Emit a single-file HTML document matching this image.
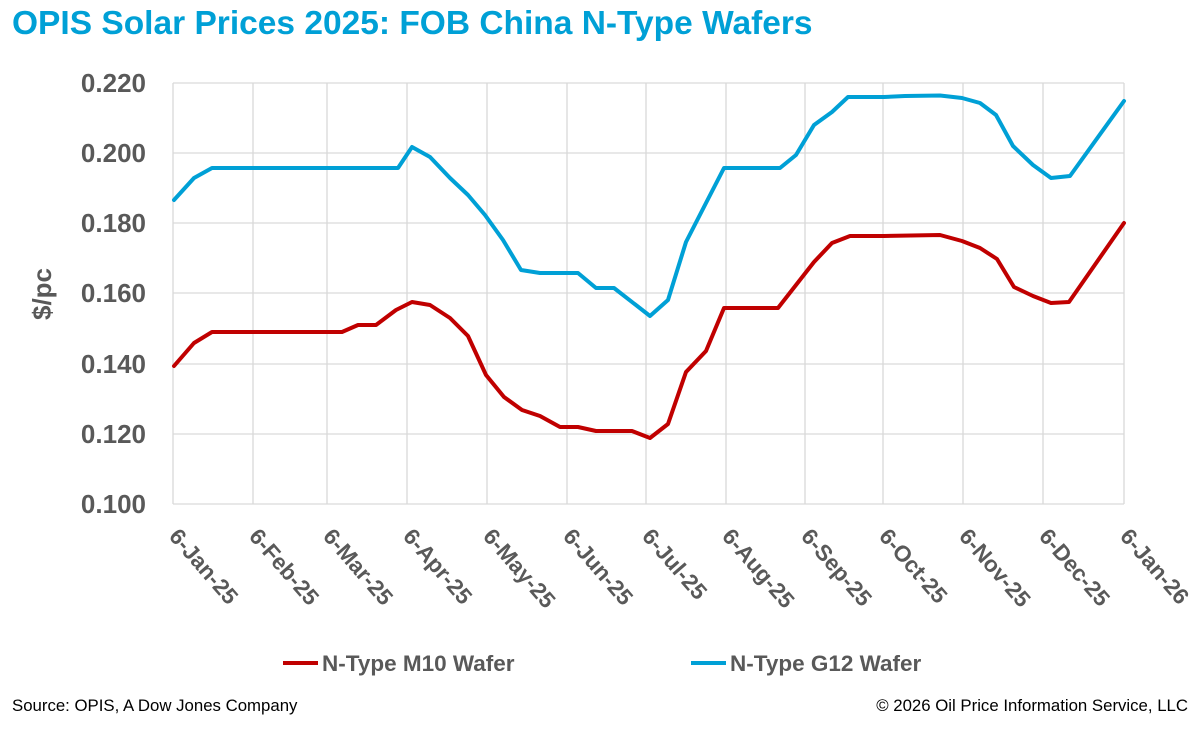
<!DOCTYPE html>
<html><head><meta charset="utf-8"><style>
body{margin:0;background:#fff;width:1200px;height:724px;overflow:hidden;font-family:"Liberation Sans",Arial,sans-serif}
</style></head><body>
<svg width="1200" height="724" xmlns="http://www.w3.org/2000/svg" font-family="Liberation Sans, Arial, sans-serif">
<text x="12" y="34" font-size="33.5" font-weight="bold" fill="#00A0D6">OPIS Solar Prices 2025: FOB China N-Type Wafers</text>
<g stroke="#d9d9d9" stroke-width="1.3">
<line x1="173" y1="83" x2="1124" y2="83"/><line x1="173" y1="153" x2="1124" y2="153"/><line x1="173" y1="223" x2="1124" y2="223"/><line x1="173" y1="293" x2="1124" y2="293"/><line x1="173" y1="364" x2="1124" y2="364"/><line x1="173" y1="434" x2="1124" y2="434"/>
<line x1="253" y1="83" x2="253" y2="504"/><line x1="327" y1="83" x2="327" y2="504"/><line x1="407" y1="83" x2="407" y2="504"/><line x1="487" y1="83" x2="487" y2="504"/><line x1="567" y1="83" x2="567" y2="504"/><line x1="646" y1="83" x2="646" y2="504"/><line x1="726" y1="83" x2="726" y2="504"/><line x1="805" y1="83" x2="805" y2="504"/><line x1="883" y1="83" x2="883" y2="504"/><line x1="963" y1="83" x2="963" y2="504"/><line x1="1043" y1="83" x2="1043" y2="504"/><line x1="1124" y1="83" x2="1124" y2="504"/>
<line x1="173" y1="83" x2="173" y2="504"/>
<line x1="173" y1="504" x2="1124" y2="504"/>
</g>
<g font-size="26" font-weight="bold" fill="#595959" text-anchor="end">
<text x="146" y="92">0.220</text><text x="146" y="162">0.200</text><text x="146" y="232">0.180</text><text x="146" y="302">0.160</text><text x="146" y="373">0.140</text><text x="146" y="443">0.120</text><text x="146" y="513">0.100</text>
</g>
<text transform="translate(51,294) rotate(-90)" font-size="26" font-weight="bold" fill="#595959" text-anchor="middle">$/pc</text>
<g font-size="22.5" font-weight="bold" fill="#595959">
<text transform="translate(168,537) rotate(49)">6-Jan-25</text>
<text transform="translate(248,537) rotate(49)">6-Feb-25</text>
<text transform="translate(322,537) rotate(49)">6-Mar-25</text>
<text transform="translate(402,537) rotate(49)">6-Apr-25</text>
<text transform="translate(482,537) rotate(49)">6-May-25</text>
<text transform="translate(562,537) rotate(49)">6-Jun-25</text>
<text transform="translate(641,537) rotate(49)">6-Jul-25</text>
<text transform="translate(721,537) rotate(49)">6-Aug-25</text>
<text transform="translate(800,537) rotate(49)">6-Sep-25</text>
<text transform="translate(878,537) rotate(49)">6-Oct-25</text>
<text transform="translate(958,537) rotate(49)">6-Nov-25</text>
<text transform="translate(1038,537) rotate(49)">6-Dec-25</text>
<text transform="translate(1119,537) rotate(49)">6-Jan-26</text>
</g>
<polyline fill="none" stroke="#00A0D6" stroke-width="4" stroke-linejoin="round" stroke-linecap="round" points="174,200 194,178 212,168 255,168 398,168 412,147 430,157 450,178 468,195 485,215 503,240 521,270 540,273 578,273 596,288 614,288 650,316 668,300 686,242 706,203 724,168 780,168 796,155 814,125 832,112 848,97 884,97 905,96 940,95.5 962,98 980,103 996,115 1013,146 1033,165 1051,178 1070,176 1124,101"/>
<polyline fill="none" stroke="#C00000" stroke-width="4" stroke-linejoin="round" stroke-linecap="round" points="174,366 194,343 212,332 342,332 358,325 376,325 396,310 412,302 430,305 450,318 468,336 486,375 504,397 522,410 540,416 560,427 578,427 596,431 632,431 650,438 668,424 686,372 706,351 724,308 778,308 796,285 814,262 832,243 850,236 884,236 940,235 962,241 980,248 997,259 1014,287 1033,296 1051,303 1069,302 1124,223"/>
<line x1="283" y1="663" x2="318" y2="663" stroke="#C00000" stroke-width="4"/>
<text x="322" y="671" font-size="22.5" font-weight="bold" fill="#595959">N-Type M10 Wafer</text>
<line x1="691" y1="663" x2="726" y2="663" stroke="#00A0D6" stroke-width="4"/>
<text x="730" y="671" font-size="22.5" font-weight="bold" fill="#595959">N-Type G12 Wafer</text>
<text x="12" y="711" font-size="16.8" fill="#000">Source: OPIS, A Dow Jones Company</text>
<text x="1188" y="711" font-size="16.8" fill="#000" text-anchor="end">© 2026 Oil Price Information Service, LLC</text>
</svg>
</body></html>
